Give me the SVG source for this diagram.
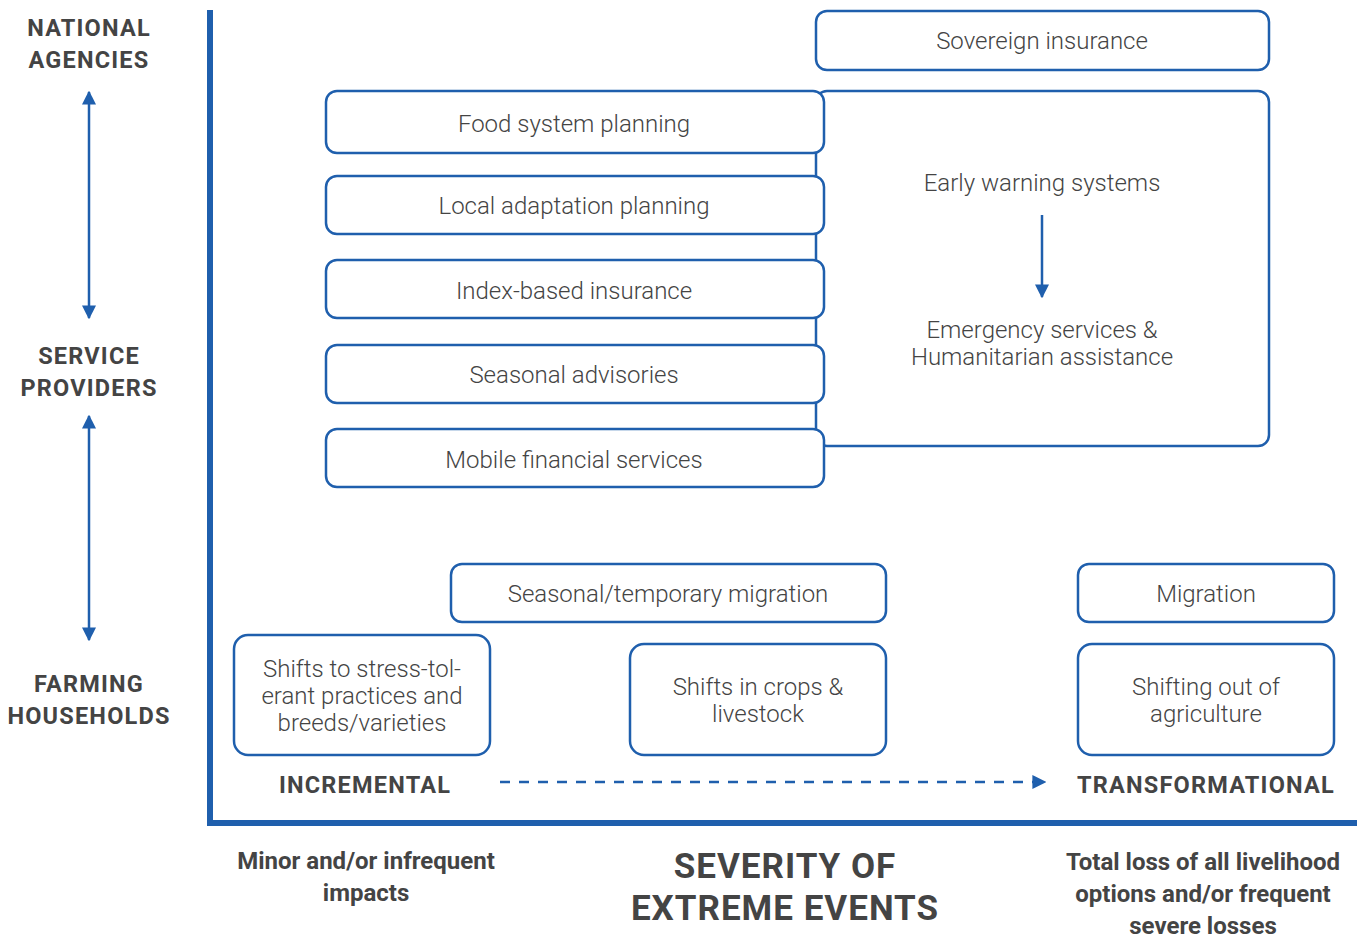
<svg xmlns="http://www.w3.org/2000/svg" width="1357" height="939" viewBox="0 0 1357 939">
<defs>
<style>
.box{fill:#fff;stroke:#1f5fad;stroke-width:2.5}
.t{font-family:Roboto,"Liberation Sans",sans-serif;font-weight:300;font-size:24px;fill:#444;text-anchor:middle}
.b{font-family:Roboto,"Liberation Sans",sans-serif;font-weight:700;font-size:23.5px;fill:#444;text-anchor:middle;letter-spacing:1.2px}
.q{font-family:Roboto,"Liberation Sans",sans-serif;font-weight:700;font-size:24px;fill:#444;text-anchor:middle}
.big{font-family:Roboto,"Liberation Sans",sans-serif;font-weight:700;font-size:35px;fill:#444;text-anchor:middle;letter-spacing:1px}
.ln{stroke:#1f5fad;stroke-width:2.5;fill:none}
</style>
<marker id="ah" viewBox="0 0 10 10" refX="9" refY="5" markerWidth="14" markerHeight="14" markerUnits="userSpaceOnUse" orient="auto-start-reverse">
<path d="M0,0 L10,5 L0,10 z" fill="#1f5fad"/>
</marker>
</defs>
<g id="axes">
<line x1="210" y1="10" x2="210" y2="826" stroke="#1f5fad" stroke-width="6"/>
<line x1="207" y1="823" x2="1357" y2="823" stroke="#1f5fad" stroke-width="6"/>
</g>
<g id="left-labels">
<text class="b" x="89" y="36">NATIONAL</text>
<text class="b" x="89" y="68">AGENCIES</text>
<text class="b" x="89" y="364">SERVICE</text>
<text class="b" x="89" y="396">PROVIDERS</text>
<text class="b" x="89" y="692">FARMING</text>
<text class="b" x="89" y="724">HOUSEHOLDS</text>
</g>
<g id="sovereign">
<rect class="box" x="816" y="11" width="453" height="59" rx="11"/>
<text class="t" x="1042" y="49">Sovereign insurance</text>
</g>
<g id="early-warning">
<rect class="box" x="816" y="91" width="453" height="355" rx="11"/>
<text class="t" x="1042" y="191">Early warning systems</text>
<text class="t" x="1042" y="338">Emergency services &amp;</text>
<text class="t" x="1042" y="365">Humanitarian assistance</text>
</g>
<g id="food">
<rect class="box" x="326" y="91" width="498" height="62" rx="11"/>
<text class="t" x="574" y="132">Food system planning</text>
</g>
<g id="local">
<rect class="box" x="326" y="176" width="498" height="58" rx="11"/>
<text class="t" x="574" y="214">Local adaptation planning</text>
</g>
<g id="index">
<rect class="box" x="326" y="260" width="498" height="58" rx="11"/>
<text class="t" x="574" y="299">Index-based insurance</text>
</g>
<g id="seasonal-adv">
<rect class="box" x="326" y="345" width="498" height="58" rx="11"/>
<text class="t" x="574" y="383">Seasonal advisories</text>
</g>
<g id="mobile">
<rect class="box" x="326" y="429" width="498" height="58" rx="11"/>
<text class="t" x="574" y="468">Mobile financial services</text>
</g>
<g id="seasonal-mig">
<rect class="box" x="451" y="564" width="435" height="58" rx="11"/>
<text class="t" x="668" y="602">Seasonal/temporary migration</text>
</g>
<g id="migration">
<rect class="box" x="1078" y="564" width="256" height="58" rx="11"/>
<text class="t" x="1206" y="602">Migration</text>
</g>
<g id="stress">
<rect class="box" x="234" y="635" width="256" height="120" rx="14"/>
<text class="t" x="362" y="677">Shifts to stress-tol-</text>
<text class="t" x="362" y="704">erant practices and</text>
<text class="t" x="362" y="731">breeds/varieties</text>
</g>
<g id="crops">
<rect class="box" x="630" y="644" width="256" height="111" rx="14"/>
<text class="t" x="758" y="695">Shifts in crops &amp;</text>
<text class="t" x="758" y="722">livestock</text>
</g>
<g id="shifting-out">
<rect class="box" x="1078" y="644" width="256" height="111" rx="14"/>
<text class="t" x="1206" y="695">Shifting out of</text>
<text class="t" x="1206" y="722">agriculture</text>
</g>
<g id="scale-labels">
<text class="b" x="365" y="793">INCREMENTAL</text>
<text class="b" x="1206" y="793">TRANSFORMATIONAL</text>
<text class="q" x="366" y="869">Minor and/or infrequent</text>
<text class="q" x="366" y="901">impacts</text>
<text class="big" x="785" y="878">SEVERITY OF</text>
<text class="big" x="785" y="920">EXTREME EVENTS</text>
<text class="q" x="1203" y="870">Total loss of all livelihood</text>
<text class="q" x="1203" y="902">options and/or frequent</text>
<text class="q" x="1203" y="934">severe losses</text>
</g>
<g id="connectors">
<line class="ln" x1="89" y1="92" x2="89" y2="318" marker-start="url(#ah)" marker-end="url(#ah)"/>
<line class="ln" x1="89" y1="416" x2="89" y2="640" marker-start="url(#ah)" marker-end="url(#ah)"/>
<line class="ln" x1="1042" y1="215" x2="1042" y2="297" marker-end="url(#ah)"/>
<line class="ln" x1="500" y1="782" x2="1045" y2="782" stroke-dasharray="10 9" marker-end="url(#ah)"/>
</g>
</svg>
